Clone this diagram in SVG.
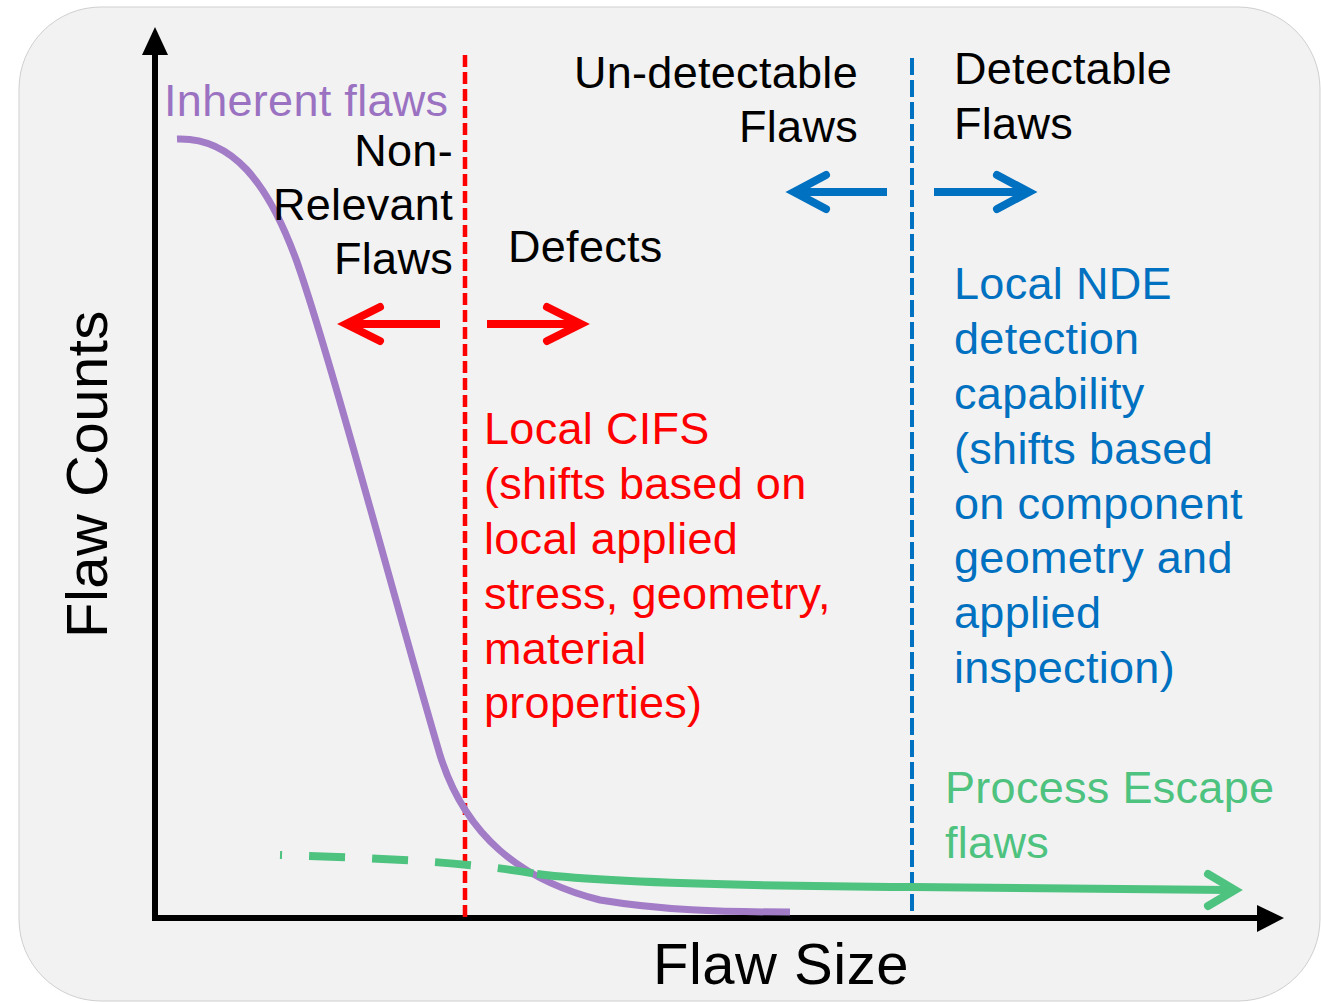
<svg xmlns="http://www.w3.org/2000/svg" width="1321" height="1003" viewBox="0 0 1321 1003">
<style>
text{font-family:"Liberation Sans",Arial,sans-serif;font-size:45px;letter-spacing:0.3px}
.k{fill:#000}
.r{fill:#ff0000}
.b{fill:#0070c0}
.p{fill:#9b72c2}
.g{fill:#4ec27f}
.end{text-anchor:end}
.big{font-size:58px;letter-spacing:0.5px}
.arrow{fill:none;stroke-width:8;stroke-linecap:round;stroke-linejoin:miter}
</style>
<rect x="19" y="7" width="1301" height="994" rx="82" ry="82" fill="#f2f2f2" stroke="#cfcfcf" stroke-width="1"/>
<g id="connectors">
  <g id="axes">
    <line x1="155" y1="921" x2="155" y2="52" stroke="#000" stroke-width="6"/>
    <polygon points="155,27 142,55 168,55" fill="#000"/>
    <line x1="152" y1="918" x2="1260" y2="918" stroke="#000" stroke-width="6"/>
    <polygon points="1284,918 1257,905 1257,932" fill="#000"/>
  </g>
  <line id="red-divider" x1="465" y1="55" x2="465" y2="918" stroke="#ff0000" stroke-width="4.5" stroke-dasharray="12 5"/>
  <line id="blue-divider" x1="912" y1="58" x2="912" y2="912" stroke="#0070c0" stroke-width="4" stroke-dasharray="17 5"/>
  <path id="inherent-curve" d="M177,139 C232,137 268,182 297,262 C332,362 400,620 440,755 C465,835 520,880 600,900 C660,910 720,912 790,912" fill="none" stroke="#a27cc6" stroke-width="7"/>
  <path id="escape-dashed" d="M280,855 C380,858 470,862 537,874" fill="none" stroke="#4ec27f" stroke-width="8" stroke-dasharray="36 27" stroke-dashoffset="34"/>
  <path id="escape-solid" d="M537,874 C600,882 750,886 912,887 L1230,890" fill="none" stroke="#4ec27f" stroke-width="8"/>
  <polyline points="1208,874 1235,890 1208,906" class="arrow" stroke="#4ec27f"/>
  <g id="red-arrows">
    <line x1="440" y1="324" x2="350" y2="324" stroke="#ff0000" stroke-width="8"/>
    <polyline points="380,307 346,324 380,341" class="arrow" stroke="#ff0000"/>
    <line x1="487" y1="324" x2="577" y2="324" stroke="#ff0000" stroke-width="8"/>
    <polyline points="547,307 581,324 547,341" class="arrow" stroke="#ff0000"/>
  </g>
  <g id="blue-arrows">
    <line x1="887" y1="192" x2="798" y2="192" stroke="#0070c0" stroke-width="8"/>
    <polyline points="826,175 794,192 826,209" class="arrow" stroke="#0070c0"/>
    <line x1="934" y1="192" x2="1025" y2="192" stroke="#0070c0" stroke-width="8"/>
    <polyline points="997,175 1029,192 997,209" class="arrow" stroke="#0070c0"/>
  </g>
</g>
<g id="axis-labels">
  <text class="k big" transform="translate(107,638) rotate(-90)">Flaw Counts</text>
  <text class="k big" x="653" y="984">Flaw  Size</text>
</g>
<g id="inherent-label"><text class="p" x="164" y="116">Inherent flaws</text></g>
<g id="non-relevant">
  <text class="k end" x="453" y="166">Non-</text>
  <text class="k end" x="453" y="220">Relevant</text>
  <text class="k end" x="453" y="274">Flaws</text>
</g>
<g id="defects"><text class="k" x="508" y="262">Defects</text></g>
<g id="undetectable">
  <text class="k end" x="858" y="88">Un-detectable</text>
  <text class="k end" x="858" y="142">Flaws</text>
</g>
<g id="detectable">
  <text class="k" x="954" y="84">Detectable</text>
  <text class="k" x="954" y="139">Flaws</text>
</g>
<g id="cifs">
  <text class="r" x="484" y="444">Local CIFS</text>
  <text class="r" x="484" y="499">(shifts based on</text>
  <text class="r" x="484" y="554">local applied</text>
  <text class="r" x="484" y="609">stress, geometry,</text>
  <text class="r" x="484" y="664">material</text>
  <text class="r" x="484" y="718">properties)</text>
</g>
<g id="nde">
  <text class="b" x="954" y="299">Local NDE</text>
  <text class="b" x="954" y="354">detection</text>
  <text class="b" x="954" y="409">capability</text>
  <text class="b" x="954" y="464">(shifts based</text>
  <text class="b" x="954" y="519">on component</text>
  <text class="b" x="954" y="573">geometry and</text>
  <text class="b" x="954" y="628">applied</text>
  <text class="b" x="954" y="683">inspection)</text>
</g>
<g id="escape-label">
  <text class="g" x="945" y="803">Process Escape</text>
  <text class="g" x="945" y="858">flaws</text>
</g>
</svg>
